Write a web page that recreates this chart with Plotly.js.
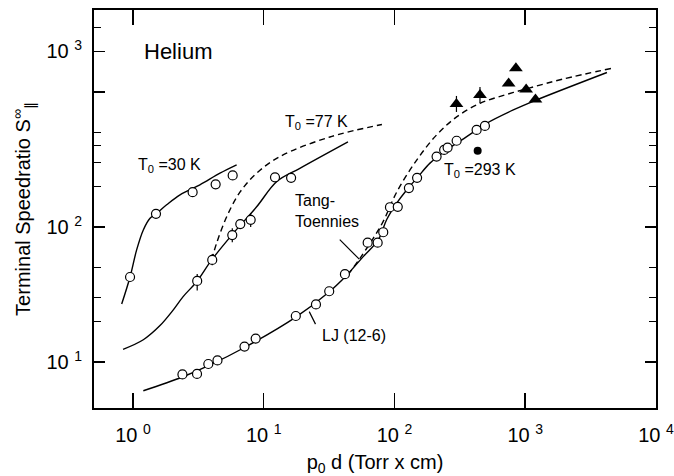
<!DOCTYPE html>
<html><head><meta charset="utf-8">
<script src="https://cdn.plot.ly/plotly-3.0.1.min.js"></script>
<style>html,body{margin:0;padding:0;background:#fff}#chart{width:674px;height:476px}</style>
</head><body><div id="chart"></div>
<script>
// ---- T0 = 30 K ----
const x30pts = [0.95, 1.50, 2.86, 4.29, 5.79];
const y30pts = [42.6, 125, 181, 207, 241];
const x30curve = [0.82, 0.95, 1.067, 1.20, 1.35, 1.50, 1.81, 2.29, 3.25, 4.63, 6.21];
const y30curve = [26.9, 42.6, 67.6, 95, 116, 125, 146, 173, 205, 250, 288];

// ---- T0 = 77 K ----
const x77pts = [3.10, 4.04, 5.75, 6.62, 7.95, 12.2, 16.2];
const y77pts = [39.8, 57, 87, 105, 113, 233, 231];
const y77errPlus = [5, 6, 11, 8, 14, 0, 0];
const y77errMinus = [6, 5, 10, 7, 13, 0, 0];
const x77LJ = [0.84, 1.20, 1.61, 2.0, 2.42, 3.07, 4.0, 5.85, 8.83, 12.6, 18.9, 44.1];
const y77LJ = [12.4, 14.6, 18.6, 23.8, 30.5, 39.3, 57, 89.7, 141, 217, 272, 427];
const x77TT = [4.0, 4.36, 5.21, 6.58, 8.83, 13.3, 32.1, 80.2];
const y77TT = [57, 75.7, 119, 181, 250, 332, 464, 574];

// ---- T0 = 293 K ----
const x293pts = [2.39, 3.09, 3.77, 4.43, 7.13, 8.68, 17.6, 25.1, 31.7, 41.8, 62.4, 74.4, 82.1, 92.4, 106, 129, 149, 210, 240, 255, 299, 425, 492];
const y293pts = [8.08, 8.15, 9.66, 10.26, 13.0, 14.9, 21.9, 26.7, 33.4, 44.7, 76.5, 76.5, 91.4, 140, 141, 194, 231, 332, 372, 387, 435, 523, 560];
const x293LJ = [1.20, 2.39, 3.75, 7.13, 17.6, 31.6, 42.6, 57.7, 75.2, 87.1, 104, 124, 152, 187, 251, 357, 507, 811, 1188, 4220];
const y293LJ = [6.12, 7.74, 9.34, 12.8, 21.5, 33.0, 43.4, 60.3, 80.2, 113, 150, 188, 236, 297, 372, 467, 586, 736, 863, 1393];
const x293TT = [44.1, 54.5, 68.8, 81.7, 104, 148, 210, 299, 451, 700, 1087, 1954, 4529];
const y293TT = [44.1, 58.6, 82.4, 109, 181, 313, 480, 653, 824, 950, 1072, 1247, 1493];
const xTri = [298, 451, 747, 849, 1017, 1198];
const yTri = [815, 950, 1156, 1500, 1042, 879];
const yTriErrPlus = [119, 139, 0, 0, 0, 0];
const yTriErrMinus = [104, 121, 0, 0, 0, 0];
const xFilled = [433];
const yFilled = [367];

// ---- ticks ----
const xTickVals = [1, 10, 100, 1000, 10000];
const xTickText = ['10 <sup>0</sup>', '10 <sup>1</sup>', '10 <sup>2</sup>', '10 <sup>3</sup>', '10 <sup>4</sup>'];
const yTickVals = [10, 100, 1000, 2000];
const yTickText = ['10 <sup>1</sup>', '10 <sup>2</sup>', '', '10 <sup>3</sup>'];
const yMinorVals = [20, 30, 50, 200, 300, 400, 500, 3000];

const FONT = 'Liberation Sans, Arial, Helvetica, sans-serif';
const solid = {color: 'black', width: 1.4, shape: 'spline'};
const dashed = {color: 'black', width: 1.4, dash: '6px,4px', shape: 'spline'};
const openCircle = {symbol: 'circle', size: 9, color: 'white', line: {color: 'black', width: 1.2}};

const traces = [
  {x: x30curve, y: y30curve, mode: 'lines', line: solid},
  {x: x77LJ, y: y77LJ, mode: 'lines', line: solid},
  {x: x77TT, y: y77TT, mode: 'lines', line: dashed},
  {x: x293LJ, y: y293LJ, mode: 'lines', line: solid},
  {x: x293TT, y: y293TT, mode: 'lines', line: dashed},
  {x: x30pts, y: y30pts, mode: 'markers', marker: openCircle},
  {x: x77pts, y: y77pts, mode: 'markers', marker: openCircle,
   error_y: {type: 'data', symmetric: false, array: y77errPlus, arrayminus: y77errMinus, color: 'black', thickness: 1.2, width: 0}},
  {x: x293pts, y: y293pts, mode: 'markers', marker: openCircle},
  {x: xTri, y: yTri, mode: 'markers', marker: {symbol: 'triangle-up', size: 12, color: 'black'},
   error_y: {type: 'data', symmetric: false, array: yTriErrPlus, arrayminus: yTriErrMinus, color: 'black', thickness: 1.2, width: 0}},
  {x: xFilled, y: yFilled, mode: 'markers', marker: {symbol: 'circle', size: 8, color: 'black'}}
];

const L = Math.log10;
const txt = (x, y, text, size) => ({x: L(x), y: L(y), xref: 'x', yref: 'y', text: text, showarrow: false,
  xanchor: 'left', yanchor: 'middle', align: 'left', font: {family: FONT, size: size || 16, color: '#000000'}});
const ptr = (x, y, ax, ay) => ({x: L(x), y: L(y), xref: 'x', yref: 'y', text: '', showarrow: true,
  arrowhead: 0, arrowwidth: 1.2, arrowcolor: 'black', ax: ax, ay: ay, standoff: 0, startstandoff: 0});

const layout = {
  width: 674, height: 476,
  margin: {l: 94, r: 18, t: 10, b: 68},
  paper_bgcolor: 'white', plot_bgcolor: 'white',
  showlegend: false,
  font: {family: FONT, color: 'black'},
  xaxis: {
    type: 'log', range: [-0.298, 4.0005],
    tickmode: 'array', tickvals: xTickVals, ticktext: xTickText,
    ticks: 'inside', ticklen: 15, tickwidth: 1.5, tickcolor: 'black',
    showline: true, linewidth: 2, linecolor: 'black', mirror: 'ticks',
    showgrid: false, zeroline: false,
    tickfont: {family: FONT, size: 20, color: 'black'},
    ticklabelstandoff: 8, ticklabeloverflow: 'allow',
    title: {text: 'p<sub>0</sub> d (Torr x cm)', font: {family: FONT, size: 20, color: 'black'}, standoff: 14}
  },
  yaxis: {
    type: 'log', range: [0.659, 3.607],
    tickmode: 'array', tickvals: yTickVals, ticktext: yTickText,
    ticks: 'inside', ticklen: 11, tickwidth: 1.5, tickcolor: 'black',
    minor: {tickmode: 'array', tickvals: yMinorVals, ticks: 'inside', ticklen: 7, tickwidth: 1.5, tickcolor: 'black', showgrid: false},
    showline: true, linewidth: 2, linecolor: 'black', mirror: 'ticks',
    showgrid: false, zeroline: false,
    tickfont: {family: FONT, size: 20, color: 'black'},
    ticklabelstandoff: 6,
    title: {text: 'Terminal Speedratio S<sup>∞</sup><sub>∥</sub>', font: {family: FONT, size: 20, color: 'black'}, standoff: 10}
  },
  annotations: [
    txt(1.17, 1977, 'Helium', 22),
    txt(1.054, 283, 'T<sub>0</sub> =30 K'),
    txt(14.0, 589, 'T<sub>0</sub> =77 K'),
    txt(231, 260, 'T<sub>0</sub> =293 K'),
    txt(16.7, 132, 'Tang-<br>Toennies'),
    txt(26.9, 15.6, 'LJ (12-6)'),
    ptr(53.8, 57.7, -21, -21),
    ptr(22.3, 23.6, 7, 14)
  ]
};

Plotly.newPlot('chart', traces, layout, {staticPlot: true, displayModeBar: false});
</script></body></html>
